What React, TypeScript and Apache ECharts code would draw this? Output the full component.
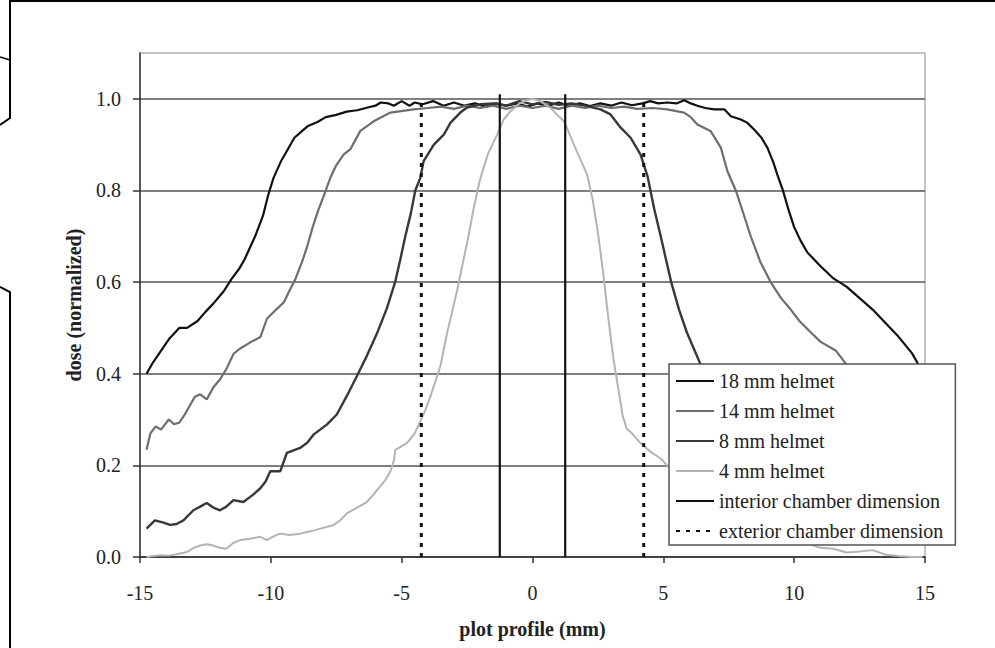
import React, { useEffect, useRef } from "react";
import * as echarts from "echarts";

const FONT = "Liberation Serif";

const xTicks = [-15, -10, -5, 0, 5, 10, 15];
const yTicks = [0, 0.2, 0.4, 0.6, 0.8, 1.0];

const x18 = [-14.75,-14.5,-14.2,-13.9,-13.5,-13.2,-12.8,-12.5,-12.2,-11.8,-11.5,-11.2,-11.0,-10.8,-10.6,-10.3,-10.1,-9.9,-9.6,-9.3,-9.1,-8.8,-8.6,-8.2,-7.9,-7.5,-7.1,-6.7,-6.3,-6.0,-5.8,-5.5,-5.3,-5.0,-4.7,-4.5,-4.2,-3.8,-3.4,-3.0,-2.6,-2.2,-1.8,-1.4,-1.0,-0.6,-0.2,0.2,0.6,1.0,1.4,1.8,2.2,2.6,3.0,3.4,3.8,4.2,4.5,4.8,5.15,5.5,5.8,6.05,6.3,6.6,6.94,7.33,7.58,7.96,8.2,8.47,8.75,8.98,9.2,9.36,9.57,9.8,10.0,10.25,10.5,11.0,11.5,12.0,12.5,13.0,13.5,14.0,14.5,14.9];
const y18 = [0.40,0.425,0.45,0.475,0.50,0.50,0.515,0.535,0.553,0.58,0.607,0.63,0.65,0.675,0.70,0.745,0.79,0.827,0.865,0.895,0.915,0.93,0.94,0.95,0.96,0.965,0.972,0.975,0.981,0.985,0.992,0.99,0.985,0.995,0.985,0.992,0.988,0.995,0.985,0.992,0.985,0.99,0.983,0.99,0.985,0.99,0.983,0.99,0.985,0.992,0.985,0.99,0.984,0.99,0.985,0.992,0.986,0.99,0.995,0.99,0.992,0.99,0.997,0.99,0.985,0.98,0.977,0.977,0.962,0.955,0.948,0.933,0.915,0.893,0.862,0.834,0.80,0.755,0.72,0.69,0.665,0.635,0.608,0.59,0.565,0.54,0.51,0.48,0.445,0.405];

const x14 = [-14.75,-14.6,-14.4,-14.2,-13.9,-13.7,-13.5,-13.3,-13.1,-12.9,-12.7,-12.45,-12.2,-11.94,-11.7,-11.43,-11.2,-10.8,-10.4,-10.15,-9.8,-9.5,-9.3,-9.06,-8.8,-8.6,-8.4,-8.2,-8.0,-7.73,-7.5,-7.22,-6.96,-6.58,-6.07,-5.43,-4.55,-4.0,-3.5,-3.0,-2.5,-2.0,-1.5,-1.0,-0.5,0,0.5,1.0,1.5,2.0,2.5,3.0,3.5,4.0,4.6,5.15,5.79,6.05,6.3,6.8,7.0,7.2,7.45,7.77,8.0,8.34,8.7,9.1,9.5,9.87,10.2,10.64,11.0,11.6,12.0,12.5,13.0,13.5,14.0,14.5,14.9];
const y14 = [0.234,0.27,0.285,0.278,0.30,0.29,0.293,0.31,0.33,0.35,0.355,0.344,0.37,0.388,0.41,0.443,0.454,0.468,0.48,0.52,0.54,0.556,0.58,0.607,0.645,0.68,0.72,0.755,0.785,0.827,0.855,0.878,0.89,0.93,0.951,0.97,0.977,0.98,0.983,0.978,0.985,0.98,0.985,0.978,0.985,0.98,0.985,0.978,0.985,0.98,0.985,0.98,0.983,0.978,0.98,0.977,0.97,0.96,0.944,0.93,0.912,0.893,0.842,0.80,0.76,0.70,0.645,0.60,0.565,0.54,0.515,0.49,0.47,0.45,0.42,0.40,0.37,0.34,0.30,0.27,0.24];

const x8 = [-14.75,-14.43,-14.1,-13.85,-13.6,-13.34,-12.96,-12.7,-12.45,-12.2,-11.94,-11.7,-11.43,-11.05,-10.7,-10.4,-10.2,-10.02,-9.64,-9.39,-8.88,-8.6,-8.37,-7.86,-7.48,-7.3,-7.1,-6.71,-6.33,-5.95,-5.57,-5.25,-5.05,-4.86,-4.65,-4.48,-4.29,-4.16,-3.77,-3.39,-3.13,-2.76,-2.5,-2.0,-1.5,-1.0,-0.5,0,0.5,1.0,1.5,2.0,2.6,2.98,3.37,3.75,4.13,4.4,4.65,4.9,5.1,5.3,5.6,5.9,6.2,6.5,6.9,7.3,7.8,8.3,8.9,9.4,10.0,10.4,11.0,11.5,12.0,12.5,13.0,13.5,14.0,14.5,14.9];
const y8 = [0.062,0.08,0.075,0.07,0.072,0.08,0.102,0.11,0.118,0.108,0.102,0.11,0.124,0.12,0.135,0.15,0.165,0.187,0.187,0.227,0.238,0.25,0.267,0.289,0.311,0.33,0.351,0.395,0.439,0.487,0.542,0.60,0.65,0.70,0.75,0.80,0.827,0.864,0.90,0.922,0.948,0.97,0.981,0.988,0.99,0.985,0.995,0.988,0.993,0.987,0.99,0.985,0.977,0.966,0.937,0.915,0.878,0.83,0.76,0.70,0.65,0.60,0.54,0.49,0.45,0.41,0.37,0.33,0.29,0.265,0.24,0.22,0.187,0.15,0.12,0.12,0.105,0.115,0.10,0.08,0.075,0.07,0.065];

const x4 = [-14.75,-14.5,-14.2,-13.9,-13.6,-13.2,-12.95,-12.7,-12.45,-12.2,-11.95,-11.7,-11.45,-11.17,-10.8,-10.4,-10.15,-9.9,-9.64,-9.3,-8.88,-8.5,-8.11,-7.6,-7.35,-7.1,-6.7,-6.33,-6.1,-5.82,-5.6,-5.43,-5.3,-5.24,-5.0,-4.79,-4.5,-4.29,-4.1,-3.9,-3.7,-3.52,-3.26,-3.05,-2.87,-2.65,-2.45,-2.25,-2.1,-1.99,-1.7,-1.35,-1.1,-0.84,-0.5,-0.2,0,0.3,0.69,0.95,1.2,1.4,1.58,1.85,2.09,2.3,2.52,2.7,2.9,3.1,3.3,3.44,3.6,3.8,4.1,4.5,4.9,5.3,5.8,6.3,7.0,7.6,8.2,8.8,9.4,10.0,10.5,11.0,11.5,12.0,12.5,13.0,13.5,14.0,14.5,14.9];
const y4 = [0.0,0.002,0.004,0.003,0.006,0.011,0.02,0.025,0.028,0.025,0.02,0.018,0.03,0.037,0.04,0.044,0.037,0.045,0.051,0.048,0.051,0.056,0.062,0.07,0.08,0.095,0.108,0.12,0.135,0.154,0.17,0.187,0.21,0.234,0.242,0.249,0.27,0.296,0.32,0.351,0.385,0.417,0.49,0.54,0.585,0.645,0.70,0.76,0.80,0.827,0.88,0.922,0.955,0.973,0.99,0.997,1.0,0.995,0.98,0.965,0.951,0.925,0.90,0.865,0.834,0.78,0.70,0.62,0.52,0.43,0.36,0.31,0.28,0.27,0.25,0.23,0.215,0.19,0.155,0.12,0.10,0.075,0.06,0.05,0.05,0.04,0.03,0.02,0.018,0.01,0.012,0.015,0.005,0.002,0.0,0.0];

const interiorX = [-1.25, 1.25];
const interiorTop = 1.01;
const exteriorX = [-4.25, 4.25];
const exteriorTop = 1.0;

const names = [
  "18 mm helmet",
  "14 mm helmet",
  "8 mm helmet",
  "4 mm helmet",
  "interior chamber dimension",
  "exterior chamber dimension",
];

const zip = (xs: number[], ys: number[]) => xs.map((x, i) => [x, ys[i]]);

export default function App() {
  const ref = useRef<HTMLDivElement>(null);
  useEffect(() => {
    if (!ref.current) return;
    const chart = echarts.init(ref.current, null, { renderer: "svg" });
    const curve = (name: string, xs: number[], ys: number[], color: string, width: number) => ({
      name,
      type: "line",
      data: zip(xs, ys),
      symbol: "none",
      smooth: false,
      lineStyle: { color, width },
      itemStyle: { color },
      z: 3,
    });
    const vline = (name: string, x: number, top: number, type: any) => ({
      name,
      type: "line",
      data: [[x, 0], [x, top]],
      symbol: "none",
      lineStyle: { color: "#111", width: type === "solid" ? 2.2 : 3, type },
      itemStyle: { color: "#111" },
      z: 4,
    });
    const option: any = {
      animation: false,
      backgroundColor: "#fff",
      textStyle: { fontFamily: FONT },
      grid: {
        left: 140,
        right: 70,
        top: 53,
        bottom: 91,
        show: true,
        borderColor: "#c4c4c4",
        borderWidth: 2,
        backgroundColor: "transparent",
      },
      xAxis: {
        type: "value",
        min: -15,
        max: 15,
        interval: 5,
        name: "plot profile (mm)",
        nameLocation: "middle",
        nameGap: 62,
        nameTextStyle: { fontFamily: FONT, fontSize: 20, fontWeight: "bold", color: "#222" },
        axisLine: { show: true, onZero: false, lineStyle: { color: "#333", width: 1.5 } },
        axisTick: { show: true, inside: false, length: 6, lineStyle: { color: "#333", width: 1.5 } },
        axisLabel: {
          fontFamily: FONT,
          fontSize: 20,
          color: "#222",
          margin: 26,
          formatter: (v: number) => (xTicks.includes(v) ? String(v) : ""),
        },
        splitLine: { show: false },
      },
      yAxis: {
        type: "value",
        min: 0,
        max: 1.1,
        interval: 0.2,
        name: "dose (normalized)",
        nameLocation: "middle",
        nameGap: 56,
        nameTextStyle: { fontFamily: FONT, fontSize: 20, fontWeight: "bold", color: "#222" },
        axisLine: { show: true, onZero: false, lineStyle: { color: "#333", width: 1.5 } },
        axisTick: {
          show: true,
          inside: false,
          length: 7,
          customValues: yTicks,
          lineStyle: { color: "#333", width: 1.5 },
        },
        axisLabel: {
          fontFamily: FONT,
          fontSize: 20,
          color: "#222",
          margin: 19,
          customValues: yTicks,
          formatter: (v: number) => v.toFixed(1),
        },
        splitLine: {
          show: true,
          lineStyle: {
            color: ["#555", "#555", "#555", "#555", "#555", "#555", "#c4c4c4"],
            width: 1.5,
          },
        },
      },
      legend: {
        data: names,
        orient: "vertical",
        left: 669,
        top: 364,
        itemWidth: 38,
        itemHeight: 12,
        itemGap: 10,
        padding: [7, 12, 4, 6],
        backgroundColor: "#fff",
        borderColor: "#555",
        borderWidth: 1.5,
        selectedMode: false,
        textStyle: { fontFamily: "Liberation Serif", fontSize: 20, color: "#222", lineHeight: 20 },
        itemStyle: { opacity: 0 },
      },
      graphic: [
        {
          type: "polyline",
          shape: { points: [[10, 648], [10, 292], [0, 287]] },
          style: { stroke: "#000", lineWidth: 2, fill: null },
        },
        {
          type: "polyline",
          shape: { points: [[0, 125], [10, 118], [10, 1], [995, 1]] },
          style: { stroke: "#000", lineWidth: 2, fill: null },
        },
        {
          type: "line",
          shape: { x1: 0, y1: 57, x2: 10, y2: 60 },
          style: { stroke: "#000", lineWidth: 1.5 },
        },
      ],
      series: [
        curve(names[0], x18, y18, "#111111", 2.2),
        curve(names[1], x14, y14, "#6e6e6e", 2.2),
        curve(names[2], x8, y8, "#383838", 2.4),
        curve(names[3], x4, y4, "#b4b4b4", 2),
        vline(names[4], interiorX[0], interiorTop, "solid"),
        vline(names[4], interiorX[1], interiorTop, "solid"),
        vline(names[5], exteriorX[0], exteriorTop, [4, 6]),
        vline(names[5], exteriorX[1], exteriorTop, [4, 6]),
      ],
    };
    chart.setOption(option);
    return () => chart.dispose();
  }, []);
  return (
    <div
      ref={ref}
      style={{ position: "absolute", left: 0, top: 0, width: 995, height: 648, background: "#fff" }}
    />
  );
}
